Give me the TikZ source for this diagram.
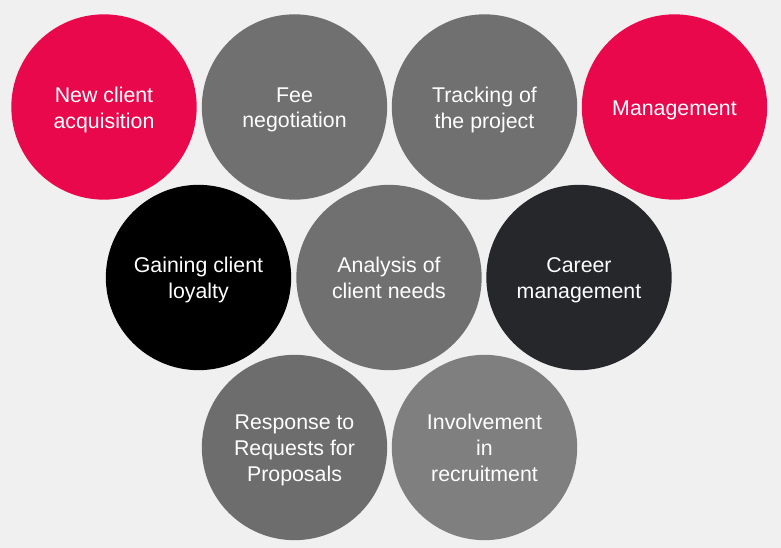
\documentclass[tikz,border=0pt]{standalone}
\usepackage{fontspec}
\setmainfont{Liberation Sans}
\usepackage{xcolor}
\usepackage{tikz}
\definecolor{bggray}{HTML}{F0F0F0}
\definecolor{accentred}{HTML}{E9084B}
\definecolor{midgray}{HTML}{707070}
\definecolor{lightgray}{HTML}{7F7F7F}
\definecolor{darkslate}{HTML}{26272B}

\begin{document}
\begin{tikzpicture}[x=0.75pt,y=-0.75pt,
    bubble/.style={circle,minimum size=139pt,inner sep=0pt},
    every label/.style={text=white,align=center,yshift=-2.2pt,text depth=3.4pt,
      font=\fontsize{16}{19.5}\selectfont}]
    \fill[bggray] (0,0) rectangle (781,548);
    \useasboundingbox (0,0) rectangle (781,548);
    \node[bubble,fill=accentred,label=center:{New client\\acquisition}] (acquisition) at (104,107) {};
    \node[bubble,fill=midgray,label=center:{Fee\\negotiation}] (fee) at (294.5,107) {};
    \node[bubble,fill=midgray,label=center:{Tracking of\\the project}] (tracking) at (484.5,107) {};
    \node[bubble,fill=accentred,label=center:{Management}] (management) at (674.5,107) {};
    \node[bubble,fill=black,label=center:{Gaining client\\loyalty}] (loyalty) at (198.5,277.5) {};
    \node[bubble,fill=midgray,label=center:{Analysis of\\client needs}] (analysis) at (389,277.5) {};
    \node[bubble,fill=darkslate,label=center:{Career\\management}] (career) at (579,277.5) {};
    \node[bubble,fill=midgray!97!black,label=center:{Response to\\Requests for\\Proposals}] (proposals) at (294.5,447.5) {};
    \node[bubble,fill=lightgray,label=center:{Involvement\\in\\recruitment}] (recruitment) at (484.5,447.5) {};
  \end{tikzpicture}
\end{document}
